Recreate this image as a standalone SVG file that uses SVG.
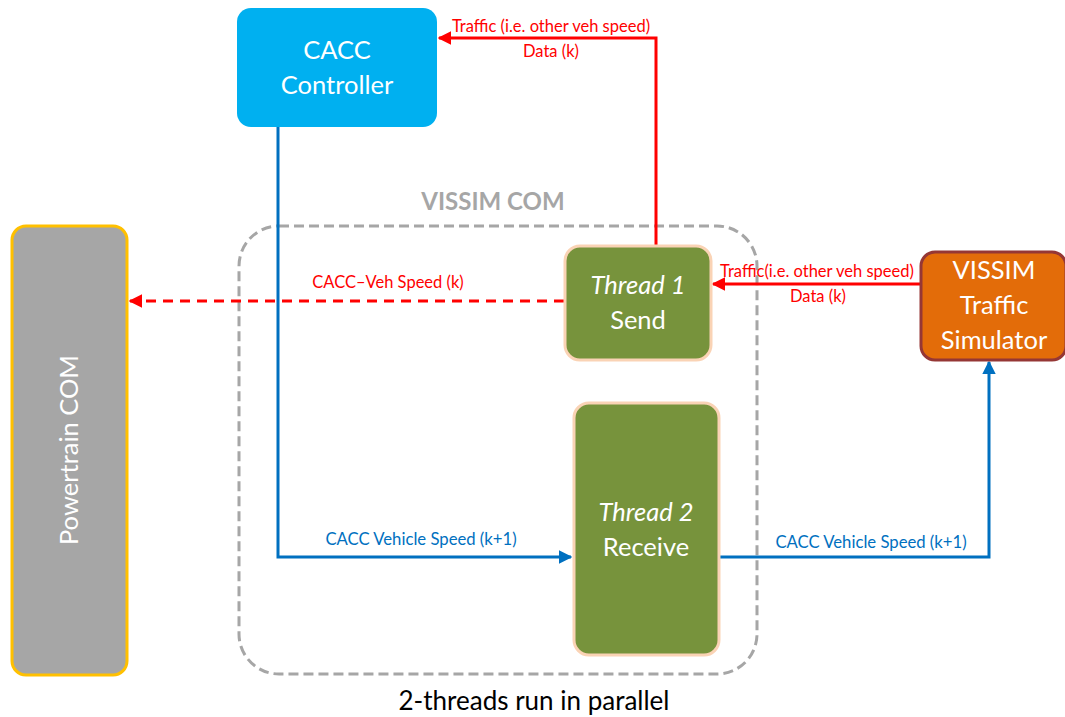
<svg xmlns="http://www.w3.org/2000/svg" width="1065" height="717" viewBox="0 0 1065 717">
<defs>
<style>
text{font-family:Lato,"Open Sans","Liberation Sans",sans-serif}
.nt{fill:#fff;font-size:25.5px;text-anchor:middle}
.rl{fill:#FF0000;font-size:16.5px;text-anchor:middle}
.bl{fill:#0070C0;font-size:16.7px;text-anchor:middle}
.red{stroke:#FF0000;stroke-width:3;fill:none}
.blue{stroke:#0070C0;stroke-width:3;fill:none}
</style>
<marker id="ar" viewBox="0 0 10 10" refX="9" refY="5" markerWidth="4.5" markerHeight="4.5" orient="auto"><path d="M0,0L10,5L0,10z" fill="#FF0000"/></marker>
<marker id="ab" viewBox="0 0 10 10" refX="9" refY="5" markerWidth="4.5" markerHeight="4.5" orient="auto"><path d="M0,0L10,5L0,10z" fill="#0070C0"/></marker>
</defs>
<rect width="1065" height="717" fill="#fff"/>
<g id="vissim-com">
<rect x="239" y="226" width="518" height="448" rx="40" fill="none" stroke="#A6A6A6" stroke-width="3" stroke-dasharray="10 5"/>
<text x="493" y="210" fill="#A6A6A6" font-size="24" font-weight="bold" text-anchor="middle">VISSIM COM</text>
</g>
<g id="connectors">
<path class="red" d="M656,245V38H439" marker-end="url(#ar)"/>
<text class="rl" x="551" y="32">Traffic (i.e. other veh speed)</text>
<text class="rl" x="551" y="57">Data (k)</text>
<path class="red" d="M920,284H713" marker-end="url(#ar)"/>
<text class="rl" x="817" y="277">Traffic(i.e. other veh speed)</text>
<text class="rl" x="818" y="302">Data (k)</text>
<path class="red" d="M564,301H130" stroke-dasharray="10 7" marker-end="url(#ar)"/>
<text class="rl" x="388" y="288">CACC–Veh Speed (k)</text>
<path class="blue" d="M278,127V557H571" marker-end="url(#ab)"/>
<text class="bl" x="421" y="545">CACC Vehicle Speed (k+1)</text>
<path class="blue" d="M719,557H989V362" marker-end="url(#ab)"/>
<text class="bl" x="871" y="548">CACC Vehicle Speed (k+1)</text>
</g>
<g id="cacc">
<rect x="237" y="8" width="200" height="119" rx="14" fill="#00B0F0"/>
<text class="nt" x="337" y="59">CACC</text>
<text class="nt" x="337" y="94">Controller</text>
</g>
<g id="powertrain">
<rect x="12" y="226" width="115" height="449" rx="14" fill="#A6A6A6" stroke="#FFC000" stroke-width="3"/>
<text class="nt" font-size="24.8" transform="translate(78,450) rotate(-90)">Powertrain COM</text>
</g>
<g id="thread1">
<rect x="565" y="246" width="146" height="114" rx="15" fill="#77933C" stroke="#FAD3B5" stroke-width="3"/>
<text class="nt" x="638" y="294" font-style="italic">Thread 1</text>
<text class="nt" x="638" y="329">Send</text>
</g>
<g id="thread2">
<rect x="574" y="403" width="145" height="252" rx="15" fill="#77933C" stroke="#FAD3B5" stroke-width="3"/>
<text class="nt" x="646" y="521" font-style="italic">Thread 2</text>
<text class="nt" x="646" y="556">Receive</text>
</g>
<g id="vissim-sim">
<rect x="921" y="252" width="145" height="108" rx="14" fill="#E36C09" stroke="#953735" stroke-width="3"/>
<text class="nt" x="994" y="279">VISSIM</text>
<text class="nt" x="994" y="314">Traffic</text>
<text class="nt" x="994" y="349">Simulator</text>
</g>
<text x="534" y="710" font-size="26" fill="#000" text-anchor="middle">2-threads run in parallel</text>
</svg>
